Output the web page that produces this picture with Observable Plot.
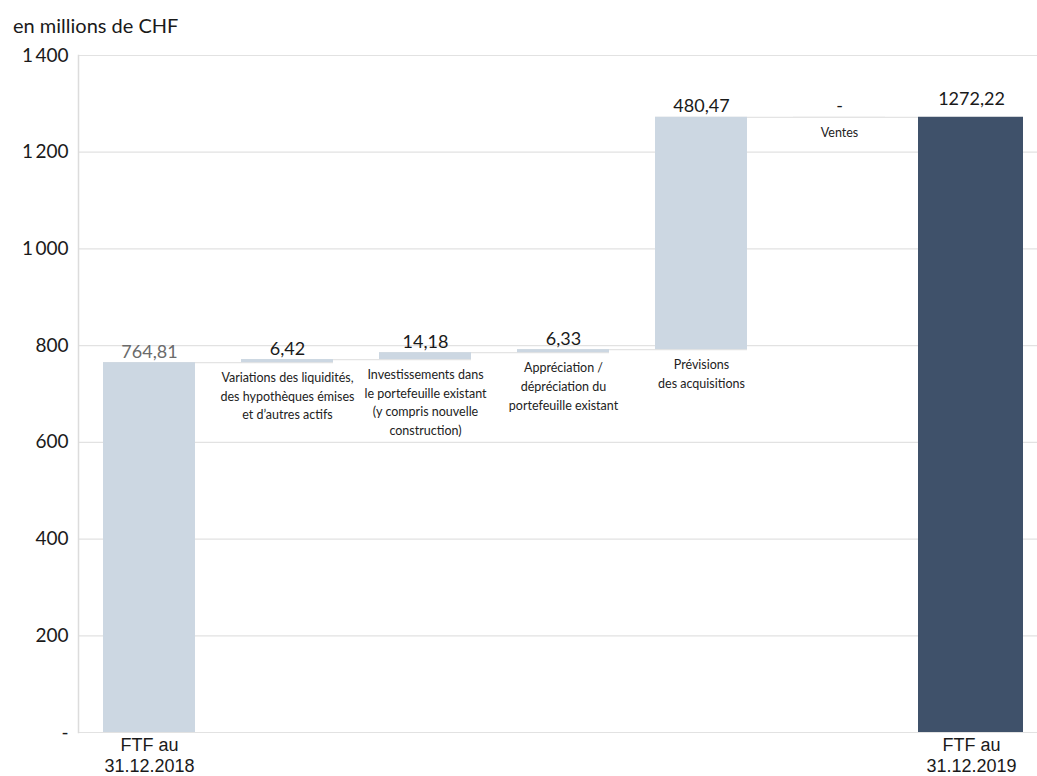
<!DOCTYPE html>
<html>
<head>
<meta charset="utf-8">
<script src="https://cdn.jsdelivr.net/npm/d3@7"></script>
<script src="https://cdn.jsdelivr.net/npm/@observablehq/plot@0.6"></script>
<style>
  body { margin: 0; background: #fff; font-family: Lato, "Open Sans", sans-serif; }
  #wrap { position: relative; width: 1037px; height: 776px; }
  #title { position: absolute; left: 13px; top: 15px; font-size: 20px; line-height: 20px; color: #1a1a1a; }
  #chart { position: absolute; left: 0; top: 0; }
</style>
</head>
<body>
<div id="wrap">
  <div id="chart"></div>
  <div id="title">en millions de CHF</div>
</div>
<script>
// Waterfall steps of the fortune totale (FTF), in millions of CHF
const steps = ["start", "liquidites", "investissements", "appreciation", "acquisitions", "ventes", "end"];
const stepKinds = ["total", "delta", "delta", "delta", "delta", "delta", "total"];
const stepValues = [764.81, 6.42, 14.18, 6.33, 480.47, 0, 1272.22];
const valueLabels = ["764,81", "6,42", "14,18", "6,33", "480,47", "-", "1272,22"];
const stepLabels = [
  "FTF au\n31.12.2018",
  "Variations des liquidités,\ndes hypothèques émises\net d’autres actifs",
  "Investissements dans\nle portefeuille existant\n(y compris nouvelle\nconstruction)",
  "Appréciation /\ndépréciation du\nportefeuille existant",
  "Prévisions\ndes acquisitions",
  "Ventes",
  "FTF au\n31.12.2019"
];
const yTicks = [0, 200, 400, 600, 800, 1000, 1200, 1400];

// Running totals: totals start from zero, deltas float on the previous level
let running = 0;
const rows = steps.map((key, i) => {
  const value = stepValues[i];
  let base, top;
  if (stepKinds[i] === "total") { base = 0; top = value; running = value; }
  else { base = running; top = running + value; running = top; }
  return { key, kind: stepKinds[i], value, base, top, label: valueLabels[i], name: stepLabels[i] };
});

// Thin connectors from the end level of one step to the next step
const links = rows.slice(0, -1).map((r, i) => ({ from: r.key, to: rows[i + 1].key, level: r.top }));

const startRows = rows.filter(d => d.key === "start");
const deltaRows = rows.filter(d => d.kind === "delta");
const endRows = rows.filter(d => d.key === "end");

const lightFill = "#ccd7e2";
const darkFill = "#3f516a";
const numberFont = "Lato, 'Open Sans', sans-serif";
const categoryFont = "'Liberation Sans', Arial, sans-serif";

const chart = Plot.plot({
  width: 1037,
  height: 776,
  marginLeft: 78,
  marginRight: 0,
  marginTop: 55,
  marginBottom: 44,
  style: { fontFamily: numberFont, background: "transparent", overflow: "visible" },
  x: { type: "band", domain: steps, range: [80, 1046], paddingInner: 1 / 3, paddingOuter: 1 / 6, axis: null },
  y: { domain: [0, 1400], axis: null },
  marks: [
    Plot.gridY(yTicks, { stroke: "#e2e2e2", strokeOpacity: 1, strokeWidth: 1.2 }),
    Plot.ruleY(links, { x1: "from", x2: "to", y: "level", stroke: "#e4e4e4", strokeWidth: 1.2 }),
    Plot.frame({ anchor: "left", stroke: "#dcdcdc", strokeWidth: 1.5 }),
    Plot.barY([...startRows, ...deltaRows], { x: "key", y1: "base", y2: "top", fill: lightFill }),
    Plot.barY(endRows, { x: "key", y1: "base", y2: "top", fill: darkFill, insetLeft: -13 }),
    // value labels above each step
    Plot.text(startRows, {
      x: "key", y: "top", text: "label", lineAnchor: "bottom", dy: -5,
      fontSize: 18, fill: "#6b6b6b"
    }),
    Plot.text(deltaRows, {
      x: "key", y: "top", text: "label", lineAnchor: "bottom", dy: -5,
      fontSize: 18, fill: "#1a1a1a"
    }),
    Plot.text(endRows, {
      x: "key", y: "top", text: "label", lineAnchor: "bottom", dy: -12.5, dx: -6,
      fontSize: 18, fill: "#1a1a1a"
    }),
    // descriptions under the floating steps
    Plot.text(deltaRows, {
      x: "key", y: "base", text: "name", lineAnchor: "top", dy: 6,
      fontSize: 12.5, lineHeight: 1.5, fill: "#222"
    }),
    // category labels of the two totals under the baseline
    Plot.text(startRows, {
      x: "key", y: "base", text: "name", lineAnchor: "top", dy: 3.5,
      fontSize: 18, lineHeight: 1.17, fill: "#1a1a1a", fontFamily: categoryFont
    }),
    Plot.text(endRows, {
      x: "key", y: "base", text: "name", lineAnchor: "top", dy: 3.5, dx: -6,
      fontSize: 18, lineHeight: 1.17, fill: "#1a1a1a", fontFamily: categoryFont
    }),
    Plot.axisY(yTicks, {
      tickSize: 0, tickPadding: 10, fontSize: 19, fill: "#1a1a1a",
      tickFormat: d => d === 0 ? "-" : d3.format(",")(d).replace(",", "\u2009")
    })
  ]
});

document.getElementById("chart").appendChild(chart);
</script>
</body>
</html>
